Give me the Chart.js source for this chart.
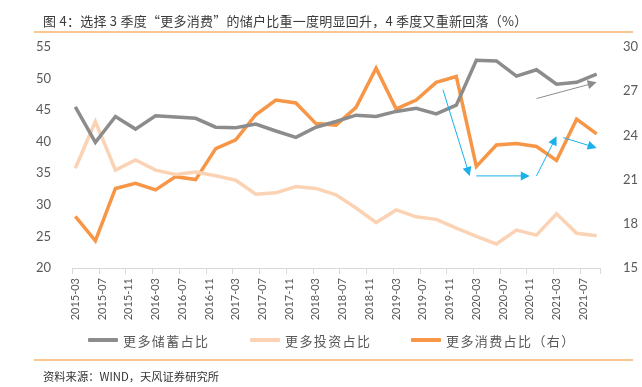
<!DOCTYPE html>
<html>
<head>
<meta charset="utf-8">
<script src="https://cdn.jsdelivr.net/npm/chart.js@4.4.1/dist/chart.umd.min.js"></script>
<style>
  html, body { margin: 0; padding: 0; background: #fff; }
  body { width: 642px; height: 387px; position: relative; overflow: hidden;
         font-family: "Noto Sans CJK SC", "Noto Sans", sans-serif; }
  #title { position: absolute; left: 43px; top: 11px; font-size: 13px; letter-spacing: 0.25px; color: #3a3a3a; white-space: nowrap; }
  .rule { position: absolute; left: 34px; width: 599px; height: 2px; background: #fbc594; }
  #source { position: absolute; left: 43px; top: 368px; font-size: 11.3px; color: #333; white-space: nowrap; }
  #legend { position: absolute; top: 330px; left: 0; width: 642px; height: 20px; }
  .lg { position: absolute; top: 0; display: flex; align-items: center; height: 20px; font-size: 13px; letter-spacing: 1.4px; color: #595959; }
  .lg span.sw { display: inline-block; width: 30px; height: 4px; margin-right: 5px; border-radius: 1px; }
  #wrap { position: absolute; left: 0; top: 0; width: 642px; height: 387px; }
</style>
</head>
<body>
<div id="wrap"><canvas id="c" width="642" height="387"></canvas></div>
<div id="title">图 4：选择 3 季度“更多消费”的储户比重一度明显回升，4 季度又重新回落（%）</div>
<div class="rule" style="top:31px"></div>
<div id="legend"></div>
<div class="rule" style="top:359px"></div>
<div id="source">资料来源：WIND，天风证券研究所</div>
<script>
// ---- data ----
const dates = ['2015-03','2015-06','2015-09','2015-12','2016-03','2016-06','2016-09','2016-12',
  '2017-03','2017-06','2017-09','2017-12','2018-03','2018-06','2018-09','2018-12',
  '2019-03','2019-06','2019-09','2019-12','2020-03','2020-06','2020-09','2020-12',
  '2021-03','2021-06','2021-09'];
const savings = [45.5,39.9,44.0,42.0,44.1,43.9,43.7,42.3,42.2,42.8,41.7,40.7,42.3,43.2,44.2,
  44.0,44.8,45.3,44.4,45.8,52.9,52.8,50.4,51.4,49.1,49.4,50.7];
const investment = [35.8,43.2,35.5,37.1,35.5,34.8,35.2,34.6,33.9,31.7,31.9,32.9,32.6,31.6,29.5,
  27.2,29.2,28.1,27.7,26.3,25.0,23.8,26.0,25.2,28.6,25.5,25.1];
const consumption = [18.5,16.85,20.4,20.75,20.3,21.2,21.0,23.1,23.7,25.4,26.4,26.2,24.8,24.7,25.9,
  28.56,25.8,26.4,27.6,28.0,21.9,23.35,23.45,23.25,22.3,25.1,24.1];
const tickLabels = ['2015-03','2015-07','2015-11','2016-03','2016-07','2016-11','2017-03','2017-07',
  '2017-11','2018-03','2018-07','2018-11','2019-03','2019-07','2019-11','2020-03','2020-07',
  '2020-11','2021-03','2021-07'];
const seriesNames = ['更多储蓄占比','更多投资占比','更多消费占比（右）'];
const leftTicks = [20,25,30,35,40,45,50,55];
const rightTicks = [15,18,21,24,27,30];
// annotation arrows: [fromDate, fromValue(right axis), toDate, toValue, colour key]
const arrows = [
  ['2019-10', 27.1, '2020-02', 21.25, 'blue'],
  ['2020-03', 21.25, '2020-11', 21.25, 'blue'],
  ['2020-12', 21.25, '2021-03', 23.95, 'blue'],
  ['2021-04', 23.85, '2021-09', 23.15, 'blue'],
  ['2020-12', 26.5, '2021-09', 27.6, 'gray']
];

// ---- helpers ----
const base = 2015 * 12 + 2;
function mIndex(s) { const [y, m] = s.split('-').map(Number); return y * 12 + (m - 1) - base; }
const labelByIndex = {};
tickLabels.forEach(t => labelByIndex[mIndex(t)] = t);
const toPts = arr => arr.map((v, i) => ({ x: mIndex(dates[i]), y: v }));

const colors = ['#8c8c8c', '#fbd3b4', '#f79646'];
const numFont = '"Lato", "Noto Sans", sans-serif';

// legend (HTML)
const lgPos = [88, 250, 411];
const lg = document.getElementById('legend');
seriesNames.forEach((n, i) => {
  const d = document.createElement('div');
  d.className = 'lg'; d.style.left = lgPos[i] + 'px';
  d.innerHTML = '<span class="sw" style="background:' + colors[i] + '"></span>' + n;
  lg.appendChild(d);
});

// tick marks sit on month-cell boundaries (half a month before each label)
const tickMarkPlugin = {
  id: 'tickMarks',
  afterDraw(chart) {
    const ctx = chart.ctx, xs = chart.scales.x, y0 = chart.chartArea.bottom;
    ctx.save();
    ctx.strokeStyle = '#d9d9d9'; ctx.lineWidth = 1;
    const vals = tickLabels.map(t => mIndex(t) - 0.5).concat([xs.max]);
    vals.forEach(v => {
      const x = Math.round(xs.getPixelForValue(v)) + 0.5;
      ctx.beginPath(); ctx.moveTo(x, y0); ctx.lineTo(x, y0 + 6); ctx.stroke();
    });
    ctx.restore();
  }
};

const arrowPlugin = {
  id: 'arrows',
  afterDatasetsDraw(chart) {
    const ctx = chart.ctx, xs = chart.scales.x, ys = chart.scales.y1;
    arrows.forEach(a => {
      const x1 = xs.getPixelForValue(mIndex(a[0])), y1 = ys.getPixelForValue(a[1]);
      const x2 = xs.getPixelForValue(mIndex(a[2])), y2 = ys.getPixelForValue(a[3]);
      const col = a[4] === 'blue' ? '#1ab0ec' : '#8c8c8c';
      const ang = Math.atan2(y2 - y1, x2 - x1);
      const L = 9, W = 4.5;
      ctx.save();
      ctx.strokeStyle = col; ctx.fillStyle = col; ctx.lineWidth = 1;
      ctx.beginPath(); ctx.moveTo(x1, y1);
      ctx.lineTo(x2 - Math.cos(ang) * L * 0.8, y2 - Math.sin(ang) * L * 0.8); ctx.stroke();
      ctx.beginPath();
      ctx.moveTo(x2, y2);
      ctx.lineTo(x2 - Math.cos(ang) * L - Math.sin(ang) * W, y2 - Math.sin(ang) * L + Math.cos(ang) * W);
      ctx.lineTo(x2 - Math.cos(ang) * L + Math.sin(ang) * W, y2 - Math.sin(ang) * L - Math.cos(ang) * W);
      ctx.closePath(); ctx.fill();
      ctx.restore();
    });
  }
};

new Chart(document.getElementById('c'), {
  type: 'line',
  data: {
    datasets: [
      { label: seriesNames[0], data: toPts(savings), yAxisID: 'y', borderColor: colors[0], borderWidth: 3.5 },
      { label: seriesNames[1], data: toPts(investment), yAxisID: 'y', borderColor: colors[1], borderWidth: 3.5 },
      { label: seriesNames[2], data: toPts(consumption), yAxisID: 'y1', borderColor: colors[2], borderWidth: 3.5 }
    ]
  },
  options: {
    responsive: false, animation: false,
    layout: { padding: { top: 47, bottom: 0, left: 0, right: 0 } },
    elements: { point: { radius: 0 }, line: { tension: 0, borderCapStyle: 'butt', borderJoinStyle: 'miter' } },
    plugins: { legend: { display: false }, tooltip: { enabled: false } },
    scales: {
      x: {
        type: 'linear', min: -0.5, max: 78.5,
        afterBuildTicks: s => { s.ticks = tickLabels.map(t => ({ value: mIndex(t) })); },
        afterFit: s => { s.height = 119; },
        ticks: { autoSkip: false, minRotation: 90, maxRotation: 90, padding: 10,
          font: { family: numFont, size: 11 }, color: '#595959',
          callback: v => labelByIndex[v] || '' },
        grid: { drawOnChartArea: false, drawTicks: false, color: '#d9d9d9' },
        border: { color: '#d9d9d9' }
      },
      y: {
        position: 'left', min: 20, max: 55,
        afterBuildTicks: s => { s.ticks = leftTicks.map(v => ({ value: v })); },
        afterFit: s => { s.width = 72; },
        ticks: { padding: 13, font: { family: numFont, size: 13 }, color: '#595959' },
        grid: { display: false }, border: { display: false }
      },
      y1: {
        position: 'right', min: 15, max: 30,
        afterBuildTicks: s => { s.ticks = rightTicks.map(v => ({ value: v })); },
        afterFit: s => { s.width = 42; },
        ticks: { padding: 15, font: { family: numFont, size: 13 }, color: '#595959' },
        grid: { display: false }, border: { display: false }
      }
    }
  },
  plugins: [arrowPlugin, tickMarkPlugin]
});
</script>
</body>
</html>
